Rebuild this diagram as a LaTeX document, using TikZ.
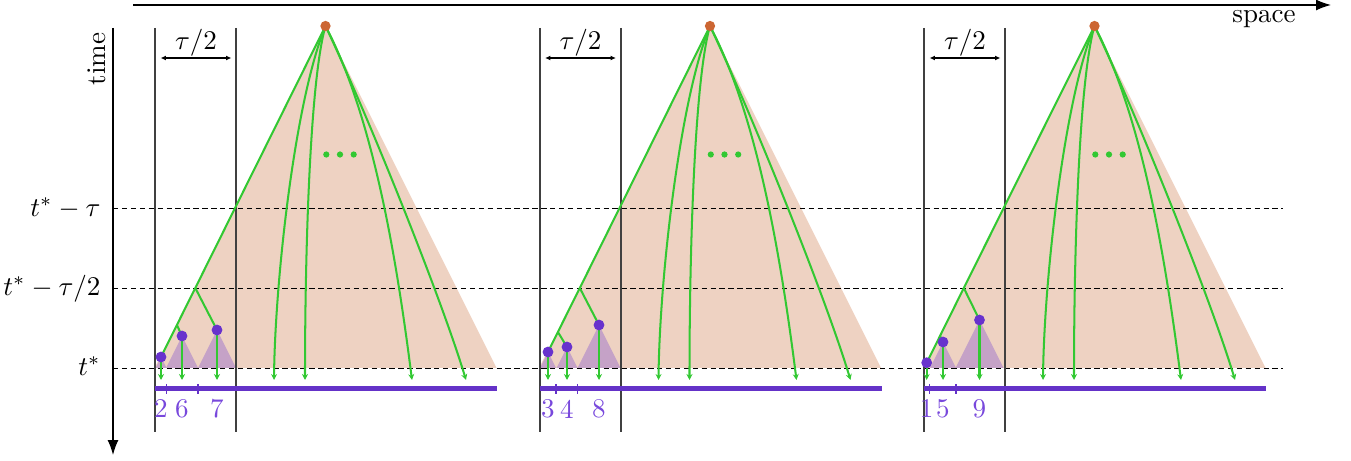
\documentclass[tikz,border=0pt]{standalone}
\usetikzlibrary{arrows.meta}
\definecolor{conefill}{RGB}{238,210,194}
\definecolor{subfill}{RGB}{197,162,199}
\definecolor{tgreen}{RGB}{50,200,50}
\definecolor{dotpurple}{RGB}{104,50,205}
\definecolor{barpurple}{RGB}{100,50,200}
\definecolor{labpurple}{RGB}{120,72,220}
\definecolor{apexorange}{RGB}{204,102,51}
\begin{document}
\begin{tikzpicture}[x=0.37pt,y=-0.37pt,
  gline/.style={draw=tgreen,line width=0.75pt},
  garrow/.style={gline,-{Stealth[length=2.2pt,width=2.2pt]}},
  pdot/.style={circle,fill=dotpurple,inner sep=0pt,minimum size=4pt},
  odot/.style={circle,fill=apexorange,inner sep=0pt,minimum size=3.8pt},
  edot/.style={circle,fill=tgreen,inner sep=0pt,minimum size=2.3pt},
  vline/.style={draw=black!75,line width=0.5pt},
  hdash/.style={draw=black,line width=0.4pt,dash pattern=on 2pt off 1.3pt},
  pbar/.style={draw=barpurple,line width=1.85pt},
  ptick/.style={draw=barpurple,line width=0.4pt},
  numlab/.style={text=labpurple,inner sep=0pt},
  axis/.style={draw=black,line width=0.45pt,-{Latex[length=5.5pt,width=4pt]}},
  dim/.style={draw=black,line width=0.4pt,{Latex[length=2pt,width=1.8pt]}-{Latex[length=2pt,width=1.8pt]}}]
\useasboundingbox (0,0) rectangle (1351,461);

% cones
\foreach \i/\dx in {1/0,2/384.5,3/769}{
  \begin{scope}[shift={(\dx,0)}]
    \coordinate (apex\i) at (325.5,26);
    \fill[conefill] (apex\i) -- (154.5,368) -- (496.5,368) -- cycle;
  \end{scope}
}

% sub-cones
\fill[subfill] (161,357) -- (155.5,368) -- (166.5,368) -- cycle;
\fill[subfill] (182,336) -- (166,368) -- (198,368) -- cycle;
\fill[subfill] (217,330) -- (198,368) -- (236,368) -- cycle;
\fill[subfill] (548,352) -- (540,368) -- (556,368) -- cycle;
\fill[subfill] (567,347) -- (556.5,368) -- (577.5,368) -- cycle;
\fill[subfill] (599,325) -- (577.5,368) -- (620.5,368) -- cycle;
\fill[subfill] (926.7,362.7) -- (924,368) -- (929.4,368) -- cycle;
\fill[subfill] (943,342) -- (930,368) -- (956,368) -- cycle;
\fill[subfill] (979.5,320) -- (955.5,368) -- (1003.5,368) -- cycle;

% time levels
\coordinate (hl1) at (113,208.5); \coordinate (hr1) at (1283,208.5);
\coordinate (hl2) at (113,288.5); \coordinate (hr2) at (1283,288.5);
\coordinate (hl3) at (113,368.5); \coordinate (hr3) at (1283,368.5);
\draw[hdash] (hl1) -- (hr1);
\draw[hdash] (hl2) -- (hr2);
\draw[hdash] (hl3) -- (hr3);
\node[anchor=east,inner sep=0pt] (lab1) at (101,208.5) {$t^*-\tau$};
\node[anchor=east,inner sep=0pt] (lab2) at (101,288.5) {$t^*-\tau/2$};
\node[anchor=east,inner sep=0pt] (lab3) at (101,366) {$t^*$};

% axes
\coordinate (sx0) at (133,5); \coordinate (sx1) at (1331,5);
\coordinate (tx0) at (113,28); \coordinate (tx1) at (113,455);
\draw[axis] (sx0) -- (sx1);
\draw[axis] (tx0) -- (tx1);
\node (spacelab) at (1264,19) {space};
\node[rotate=90] (timelab) at (97,59) {time};

% panel boundaries
\foreach \i/\xa/\xb in {1/155/236,2/540/621,3/924/1005}{
  \coordinate (vt\i) at (\xa,28); \coordinate (vb\i) at (\xa,432);
  \coordinate (wt\i) at (\xb,28); \coordinate (wb\i) at (\xb,432);
  \draw[vline] (vt\i) -- (vb\i);
  \draw[vline] (wt\i) -- (wb\i);
}

% common panel parts
\foreach \i/\dx in {1/0,2/384.5,3/769}{
  \begin{scope}[shift={(\dx,0)}]
    \coordinate (dl\i) at (160.5,58); \coordinate (dr\i) at (231.5,58);
    \draw[dim] (dl\i) -- (dr\i);
    \node (tau\i) at (196,43) {$\tau/2$};
    \coordinate (bl\i) at (155,389); \coordinate (br\i) at (497,389);
    \draw[pbar] (bl\i) -- (br\i);
    \coordinate (ea\i) at (274,380);
    \coordinate (eb\i) at (305,380);
    \coordinate (ec\i) at (412,380);
    \coordinate (ed\i) at (466,380);
    \draw[garrow] (apex\i) .. controls (295,100) and (275,280) .. (ea\i);
    \draw[garrow] (apex\i) .. controls (310,80) and (305,250) .. (eb\i);
    \draw[garrow] (apex\i) .. controls (375,120) and (398,270) .. (ec\i);
    \draw[garrow] (apex\i) .. controls (370,120) and (442,300) .. (ed\i);
    \node[edot] (el\i) at (326.3,154.5) {};
    \node[edot] (em\i) at (340,154.5) {};
    \node[edot] (er\i) at (353.7,154.5) {};
  \end{scope}
}

% ticks
\foreach \t/\x in {a/166.5,b/198,c/556,d/577.5,e/929.5,f/956}{
  \coordinate (tt\t) at (\x,384); \coordinate (tb\t) at (\x,394.5);
  \draw[ptick] (tt\t) -- (tb\t);
}

% panel 1 subtree
\coordinate (p1b1) at (195.3,288);
\coordinate (p1b2) at (176.9,325);
\coordinate (d2) at (161,357);
\coordinate (d6) at (182,336);
\coordinate (d7) at (217,330);
\draw[gline] (apex1) -- (p1b1) -- (p1b2) -- (d2);
\draw[gline] (p1b1) -- (d7);
\draw[gline] (p1b2) -- (d6);
% panel 2 subtree
\coordinate (p2b1) at (579.8,288);
\coordinate (p2b2) at (557.9,332);
\coordinate (d3) at (548,352);
\coordinate (d4) at (567,347);
\coordinate (d8) at (599,325);
\draw[gline] (apex2) -- (p2b1) -- (p2b2) -- (d3);
\draw[gline] (p2b1) -- (d8);
\draw[gline] (p2b2) -- (d4);
% panel 3 subtree
\coordinate (p3b1) at (963.8,288);
\coordinate (p3b2) at (940,336);
\coordinate (d1) at (926.7,362.7);
\coordinate (d5) at (943,342);
\coordinate (d9) at (979.5,320);
\draw[gline] (apex3) -- (p3b1) -- (p3b2) -- (d1);
\draw[gline] (p3b1) -- (d9);
\draw[gline] (p3b2) -- (d5);

% leaf arrows, dots, labels
\foreach \n/\x in {2/161,6/182,7/217,3/548,4/567,8/599,1/926.7,5/943,9/979.5}{
  \coordinate (f\n) at (\x,380);
  \draw[garrow] (d\n) -- (f\n);
  \node[pdot] (dot\n) at (d\n) {};
  \node[numlab] (num\n) at (\x,409) {\n};
}
\foreach \i in {1,2,3}{
  \node[odot] (top\i) at (apex\i) {};
}
\end{tikzpicture}
\end{document}
